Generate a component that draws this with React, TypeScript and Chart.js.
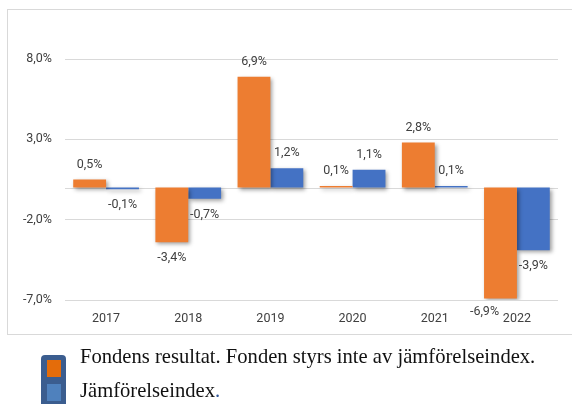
import React, { useEffect, useRef } from "react";
import { Chart, registerables } from "chart.js";

Chart.register(...registerables);

const categories = ["2017", "2018", "2019", "2020", "2021", "2022"];
const fundValues = [0.5, -3.4, 6.9, 0.1, 2.8, -6.9];
const indexValues = [-0.1, -0.7, 1.2, 1.1, 0.1, -3.9];
const yTicks = [-7, -2, 3, 8];
const legendFund = "Fondens resultat. Fonden styrs inte av jämförelseindex.";
const legendIndex = "Jämförelseindex";

const fmt = (v: number) => v.toFixed(1).replace(".", ",") + "%";

const labelPlugin = {
  id: "labelsAndShadow",
  beforeDatasetsDraw(chart: any) {
    const ctx = chart.ctx;
    const y0 = chart.scales.y.getPixelForValue(0);
    ctx.save();
    ctx.strokeStyle = "#d9d9d9";
    ctx.lineWidth = 1;
    ctx.beginPath();
    ctx.moveTo(chart.chartArea.left, Math.round(y0) + 0.5);
    ctx.lineTo(chart.chartArea.right, Math.round(y0) + 0.5);
    ctx.stroke();
    ctx.restore();
    ctx.save();
    ctx.shadowColor = "rgba(0,0,0,0.38)";
    ctx.shadowBlur = 4;
    ctx.shadowOffsetX = 2;
    ctx.shadowOffsetY = 2;
  },
  afterDatasetsDraw(chart: any, _args: any, opts: any) {
    const ctx = chart.ctx;
    ctx.restore();
    ctx.save();
    ctx.font = "12.5px Roboto";
    ctx.fillStyle = "#404040";
    ctx.textAlign = "center";
    ctx.textBaseline = "middle";
    chart.data.datasets.forEach((ds: any, di: number) => {
      const meta = chart.getDatasetMeta(di);
      meta.data.forEach((bar: any, i: number) => {
        const v = ds.data[i];
        const shift = (opts.shifts && opts.shifts[di + ":" + i]) || [0, 0];
        const y = v >= 0 ? bar.y - 15 : bar.y + 16;
        ctx.fillText(fmt(v), bar.x + shift[0], y + shift[1]);
      });
    });
    ctx.restore();
  },
};

export default function App() {
  const ref = useRef<HTMLCanvasElement>(null);
  useEffect(() => {
    document.body.style.margin = "0";
    const chart = new Chart(ref.current as HTMLCanvasElement, {
      type: "bar",
      data: {
        labels: categories,
        datasets: [
          { label: "Fond", data: fundValues, backgroundColor: "#ED7D31", borderWidth: 0 },
          { label: "Index", data: indexValues, backgroundColor: "#4472C4", borderWidth: 0 },
        ],
      },
      options: {
        animation: false,
        responsive: false,
        maintainAspectRatio: false,
        layout: { padding: { left: 0, top: 59, right: 14, bottom: 0 } },
        datasets: { bar: { categoryPercentage: 0.8, barPercentage: 1.0 } },
        plugins: {
          legend: { display: false },
          tooltip: { enabled: false },
          labelsAndShadow: { shifts: { "0:5": [-16, -3] } },
        } as any,
        scales: {
          x: {
            grid: { display: false, drawTicks: false },
            border: { display: false },
            ticks: { color: "#404040", font: { family: "Roboto", size: 12.5 }, padding: 11 },
            afterFit: (s: any) => {
              s.height = 104;
            },
          },
          y: {
            min: -7,
            max: 8,
            afterBuildTicks: (s: any) => {
              s.ticks = yTicks.map((v) => ({ value: v }));
            },
            grid: { color: "#d9d9d9", lineWidth: 1, drawTicks: false },
            border: { display: false },
            ticks: {
              color: "#404040",
              font: { family: "Roboto", size: 12.5 },
              padding: 13,
              callback: (v: any) => fmt(Number(v)),
            },
            afterFit: (s: any) => {
              s.width = 65;
            },
          },
        },
      },
      plugins: [labelPlugin],
    });
    return () => chart.destroy();
  }, []);

  const serif = "'Liberation Serif', 'Times New Roman', serif";
  return (
    <div style={{ position: "relative", width: 572, height: 404, overflow: "hidden", background: "#fff" }}>
      <div
        style={{
          position: "absolute",
          left: 7,
          top: 9,
          width: 580,
          height: 326,
          border: "1px solid #d9d9d9",
          boxSizing: "border-box",
        }}
      />
      <canvas ref={ref} width={572} height={404} style={{ position: "absolute", left: 0, top: 0 }} />
      <div
        style={{
          position: "absolute",
          left: 41,
          top: 355,
          width: 25,
          height: 56,
          background: "#3b5d8f",
          borderRadius: 4,
        }}
      />
      <div style={{ position: "absolute", left: 47, top: 360, width: 14, height: 17, background: "#E46C0A" }} />
      <div style={{ position: "absolute", left: 47, top: 384, width: 14, height: 17, background: "#4F81BD" }} />
      <div
        style={{
          position: "absolute",
          left: 80,
          top: 346,
          fontFamily: serif,
          fontSize: 20.6,
          lineHeight: "20px",
          color: "#111",
          whiteSpace: "nowrap",
        }}
      >
        {legendFund}
      </div>
      <div
        style={{
          position: "absolute",
          left: 80,
          top: 380,
          fontFamily: serif,
          fontSize: 20.6,
          lineHeight: "20px",
          color: "#111",
          whiteSpace: "nowrap",
        }}
      >
        {legendIndex}
        <span style={{ color: "#2f5597" }}>.</span>
      </div>
    </div>
  );
}
